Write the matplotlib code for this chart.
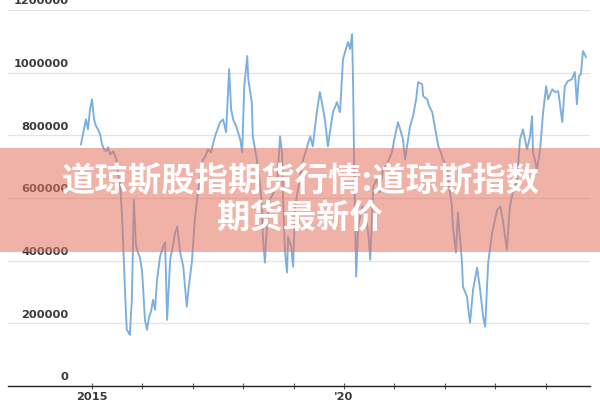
import matplotlib
matplotlib.use('Agg')
import matplotlib.pyplot as plt
from matplotlib.patches import Rectangle

# dates as decimal years, values in thousands
dates = [2014.78, 2014.82, 2014.86, 2014.88, 2014.92, 2014.96, 2015.00, 2015.04, 2015.08, 2015.12,
         2015.16, 2015.20, 2015.24, 2015.28, 2015.32, 2015.36, 2015.42, 2015.48, 2015.52, 2015.56,
         2015.60, 2015.63, 2015.67, 2015.69, 2015.73, 2015.75, 2015.79, 2015.81, 2015.83, 2015.87,
         2015.91, 2015.95, 2015.99, 2016.01, 2016.05, 2016.09, 2016.13, 2016.17, 2016.21, 2016.25,
         2016.29, 2016.35, 2016.41, 2016.45, 2016.49, 2016.55, 2016.61, 2016.65, 2016.69, 2016.75,
         2016.81, 2016.85, 2016.88, 2016.92, 2016.98, 2017.04, 2017.10, 2017.16, 2017.20, 2017.24,
         2017.30, 2017.36, 2017.44, 2017.54, 2017.60, 2017.66, 2017.72, 2017.76, 2017.80, 2017.86,
         2017.94, 2017.98, 2018.02, 2018.08, 2018.10, 2018.17, 2018.19, 2018.27, 2018.33, 2018.37,
         2018.39, 2018.43, 2018.47, 2018.53, 2018.67, 2018.73, 2018.77, 2018.79, 2018.83, 2018.87,
         2018.89, 2018.95, 2018.99, 2019.03, 2019.13, 2019.19, 2019.27, 2019.33, 2019.38, 2019.46,
         2019.52, 2019.56, 2019.62, 2019.68, 2019.72, 2019.78, 2019.86, 2019.92, 2019.98, 2020.02,
         2020.08, 2020.12, 2020.16, 2020.18, 2020.20, 2020.22, 2020.24, 2020.28, 2020.36, 2020.42,
         2020.48, 2020.52, 2020.58, 2020.65, 2020.71, 2020.77, 2020.87, 2020.95, 2021.01, 2021.07,
         2021.13, 2021.17, 2021.21, 2021.25, 2021.31, 2021.37, 2021.43, 2021.47, 2021.55, 2021.57,
         2021.65, 2021.69, 2021.75, 2021.81, 2021.87, 2021.92, 2021.96, 2022.04, 2022.06, 2022.14,
         2022.16, 2022.22, 2022.26, 2022.34, 2022.36, 2022.44, 2022.46, 2022.50, 2022.56, 2022.64,
         2022.70, 2022.76, 2022.80, 2022.86, 2022.94, 2023.04, 2023.10, 2023.15, 2023.23, 2023.29,
         2023.35, 2023.43, 2023.49, 2023.55, 2023.63, 2023.69, 2023.73, 2023.75, 2023.83, 2023.89,
         2023.95, 2024.01, 2024.05, 2024.13, 2024.19, 2024.25, 2024.33, 2024.38, 2024.44, 2024.52,
         2024.58, 2024.62, 2024.66, 2024.70, 2024.74, 2024.80]
values_k = [771, 803, 835, 851, 819, 883, 915, 851, 829, 819,
            803, 771, 755, 749, 762, 739, 749, 723, 675, 637,
            531, 403, 243, 179, 170, 163, 275, 426, 595, 451,
            426, 410, 371, 323, 211, 179, 218, 237, 275, 243,
            339, 413, 445, 458, 211, 403, 451, 490, 509, 426,
            381, 307, 253, 317, 394, 531, 618, 675, 723, 730,
            755, 746, 797, 842, 851, 810, 1011, 883, 851, 829,
            787, 746, 957, 1053, 979, 906, 797, 723, 650, 573,
            477, 394, 509, 595, 637, 797, 746, 595, 426, 362,
            477, 445, 381, 573, 669, 723, 765, 797, 765, 874,
            938, 906, 851, 765, 810, 874, 906, 874, 1043, 1066,
            1098, 1075, 1123, 957, 723, 531, 349, 509, 573, 554,
            490, 403, 637, 659, 618, 691, 714, 746, 797, 842,
            810, 787, 723, 765, 829, 861, 915, 970, 963, 925,
            915, 893, 874, 819, 765, 746, 723, 701, 669, 573,
            509, 426, 554, 394, 317, 285, 253, 202, 307, 378,
            307, 221, 189, 394, 490, 563, 573, 531, 435, 573,
            618, 650, 787, 819, 755, 797, 861, 746, 691, 755,
            874, 957, 915, 947, 938, 941, 842, 957, 973, 979,
            1002, 899, 989, 995, 1069, 1050]

y_ticks = [0, 200000, 400000, 600000, 800000, 1000000, 1200000]
x_ticks = [2015, 2016, 2017, 2018, 2019, 2020, 2021, 2022, 2023, 2024]
x_labels = ['2015', '', '', '', '', "'20", '', '', '', '']
title_text = '道琼斯股指期货行情:道琼斯指数\n期货最新价'

values = [v * 1000 for v in values_k]

fig = plt.figure(figsize=(6, 4), dpi=100)
ax = fig.add_axes([8 / 600, 14 / 400, 582 / 600, 376 / 400])

ax.plot(dates, values, color='#7aafe0', linewidth=1.35, zorder=3)

ax.set_xlim(2013.333, 2024.88)
ax.set_ylim(0, 1200000)

for s in ['top', 'right', 'left']:
    ax.spines[s].set_visible(False)
ax.spines['bottom'].set_color('#222222')
ax.spines['bottom'].set_linewidth(1.0)

ax.set_yticks(y_ticks)
ax.set_yticklabels([])
ax.tick_params(axis='y', length=0)
ax.grid(axis='y', color='#e3e3e3', linewidth=0.9)
ax.set_axisbelow(True)

# y labels sit just above their grid lines, inside the plot
for v in y_ticks:
    ax.annotate(str(v), xy=(0.104, v), xycoords=('axes fraction', 'data'),
                xytext=(0, 4), textcoords='offset points',
                ha='right', va='baseline', fontsize=8.2, fontweight='bold',
                color='#3a3a3a', annotation_clip=False)

ax.set_xticks(x_ticks)
ax.set_xticklabels(x_labels)
ax.tick_params(axis='x', direction='inout', length=5, width=0.8, color='#555555',
               pad=2, labelsize=8.2, labelcolor='#3a3a3a')
for lbl in ax.get_xticklabels():
    lbl.set_fontweight('bold')

# salmon banner with the headline over it
fig.add_artist(Rectangle((0, 1 - 252 / 400), 1, 104 / 400, transform=fig.transFigure,
                         facecolor=(0.894, 0.45, 0.365), alpha=0.55,
                         edgecolor='none', zorder=5))
fig.text(0.5, 1 - 200 / 400, title_text, ha='center', va='center',
         fontsize=24, fontweight='heavy', color='white', linespacing=1.15,
         family=['Noto Sans CJK SC', 'DejaVu Sans'], zorder=6)

fig.savefig('out.png', dpi=100)
